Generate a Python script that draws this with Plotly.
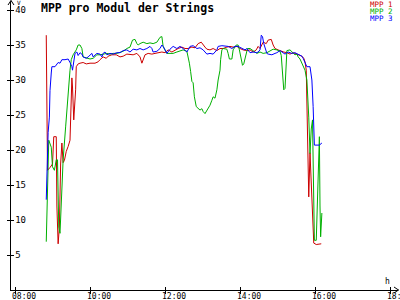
import plotly.graph_objects as go

# ---------------- data ----------------
t_mpp1 = ["08:50","08:52","08:56","09:00","09:02","09:06","09:07","09:09","09:11","09:13",
          "09:15","09:17","09:19","09:22","09:25","09:28","09:31","09:32","09:34","09:37",
          "09:38","09:41","09:44","09:49","09:54","10:00","10:08","10:13","10:16","10:21",
          "10:26","10:29","10:35","10:42","10:48","10:53","10:59","11:04","11:09","11:15",
          "11:20","11:23","11:28","11:33","11:39","11:44","11:49","11:55","12:00","12:05",
          "12:11","12:16","12:21","12:27","12:32","12:37","12:43","12:48","12:53","12:58",
          "13:01","13:04","13:07","13:12","13:17","13:23","13:28","13:33","13:39","13:44",
          "13:49","13:55","14:00","14:05","14:11","14:16","14:21","14:26","14:29","14:32",
          "14:37","14:42","14:45","14:50","14:53","14:56","15:01","15:06","15:10","15:15",
          "15:20","15:25","15:31","15:36","15:39","15:42","15:44","15:46","15:48","15:50",
          "15:52","15:54","15:57","15:58","16:02","16:10"]
v_mpp1 = [36.4,17.1,17.5,18.0,21.9,21.9,12.0,6.6,9.0,18.0,
          21.0,18.2,18.5,19.8,20.5,21.4,30.3,29.0,24.3,28.6,
          31.9,32.3,32.4,32.5,32.3,32.4,32.4,32.6,32.9,33.3,
          33.1,33.4,33.6,33.6,33.3,33.4,33.7,33.6,33.6,33.8,
          33.3,32.4,33.6,33.8,33.7,33.8,33.9,34.0,33.9,34.3,
          34.0,34.3,34.5,34.7,34.5,34.5,34.7,34.6,35.2,35.4,
          35.0,34.7,34.4,34.3,34.5,34.2,34.5,34.5,34.7,34.8,
          34.7,34.8,34.5,34.3,34.2,34.3,34.0,34.3,34.8,34.5,
          35.4,35.2,35.7,35.8,35.0,34.5,34.3,34.1,34.0,33.9,
          33.7,33.9,33.7,33.6,33.4,33.1,32.6,31.4,22.0,13.3,
          19.6,16.0,10.4,6.7,6.5,6.6]

t_mpp2 = ["08:50","08:52","08:54","08:58","09:00","09:03","09:06","09:08","09:10","09:12",
          "09:15","09:17","09:21","09:23","09:25","09:28","09:30","09:33","09:38","09:41",
          "09:44","09:47","09:49","09:55","10:00","10:05","10:11","10:16","10:21","10:27",
          "10:32","10:37","10:43","10:48","10:53","10:59","11:04","11:08","11:12","11:15",
          "11:17","11:20","11:25","11:31","11:36","11:41","11:47","11:52","11:55","11:57",
          "12:00","12:03","12:08","12:13","12:19","12:24","12:29","12:35","12:37","12:39",
          "12:41","12:43","12:45","12:47","12:50","12:53","12:56","12:59","13:01","13:04",
          "13:07","13:09","13:12","13:15","13:17","13:20","13:23","13:25","13:28","13:29",
          "13:31","13:33","13:39","13:41","13:43","13:47","13:49","13:54","13:57","13:59",
          "14:01","14:04","14:06","14:09","14:12","14:16","14:21","14:27","14:32","14:37",
          "14:43","14:48","14:53","14:59","15:04","15:06","15:08","15:10","15:12","15:14",
          "15:15","15:20","15:25","15:28","15:31","15:33","15:36","15:39","15:41","15:44",
          "15:47","15:48","15:50","15:52","15:54","15:56","15:57","15:59","16:02","16:03",
          "16:05","16:07","16:08","16:09","16:11"]
v_mpp2 = [6.9,15.0,21.4,20.4,17.6,17.1,18.6,18.6,9.0,8.1,
          13.8,18.6,23.3,25.7,28.6,31.4,32.9,33.6,34.3,35.0,
          35.0,34.5,33.3,33.1,33.0,33.1,33.6,33.6,33.7,33.8,
          33.7,33.8,33.8,34.0,34.1,34.5,34.7,35.7,35.8,35.2,
          35.0,35.2,35.4,35.2,35.3,35.2,35.4,36.1,36.2,34.8,
          34.3,33.8,33.8,33.8,34.0,34.2,34.3,34.1,33.3,32.4,
          31.2,29.8,29.6,27.6,26.2,26.0,25.7,25.9,25.5,25.2,
          25.6,25.9,26.4,27.1,27.6,27.4,28.6,30.0,31.4,32.9,
          34.3,34.5,34.4,33.8,33.0,33.0,34.3,35.0,35.0,34.3,
          33.4,32.1,32.3,33.6,34.5,34.5,34.2,33.8,34.0,33.8,
          33.9,34.2,34.4,34.3,34.1,33.5,31.5,28.6,28.8,31.9,
          34.2,34.3,33.8,33.6,33.7,33.3,33.0,32.4,32.1,31.4,
          30.0,28.6,24.7,19.5,23.0,24.3,16.0,7.1,7.1,11.0,
          18.1,21.9,12.0,7.6,11.0]

t_mpp3 = ["08:50","08:51","08:52","08:53","08:55","08:56","08:58","08:59","09:04","09:07",
          "09:09","09:12","09:15","09:20","09:25","09:28","09:31","09:32","09:34","09:36",
          "09:39","09:41","09:44","09:47","09:49","09:54","09:57","10:00","10:03","10:05",
          "10:08","10:11","10:16","10:19","10:21","10:24","10:27","10:32","10:37","10:43",
          "10:48","10:53","10:59","11:04","11:09","11:15","11:20","11:25","11:31","11:36",
          "11:39","11:41","11:47","11:52","11:55","11:57","12:00","12:03","12:08","12:13",
          "12:19","12:24","12:29","12:35","12:40","12:45","12:51","12:56","13:01","13:07",
          "13:12","13:17","13:23","13:25","13:31","13:36","13:41","13:47","13:52","13:57",
          "14:03","14:08","14:11","14:16","14:21","14:27","14:29","14:32","14:34","14:36",
          "14:38","14:40","14:43","14:45","14:51","14:56","14:59","15:04","15:09","15:12",
          "15:17","15:23","15:28","15:33","15:39","15:41","15:44","15:47","15:52","15:55",
          "15:57","15:59","16:07","16:11"]
v_mpp3 = [12.9,16.1,20.0,22.5,24.7,28.5,31.0,31.9,31.9,32.2,
          32.5,32.4,32.9,32.9,33.0,32.5,31.9,31.4,32.5,33.8,
          34.0,33.5,33.9,33.7,33.3,33.1,33.3,33.6,33.8,33.3,
          33.6,33.8,33.7,33.3,33.8,34.0,33.6,33.8,33.7,33.9,
          33.9,34.2,34.3,34.0,34.4,34.3,34.5,34.3,34.5,34.8,
          34.5,34.0,34.1,34.5,35.0,34.8,34.3,33.8,34.4,34.8,
          34.5,34.8,34.5,34.0,34.8,34.9,34.5,34.6,34.3,33.7,
          33.8,33.7,34.3,34.8,34.9,34.8,34.8,34.5,34.8,34.8,
          34.5,34.3,34.5,33.9,34.0,33.9,34.0,34.3,36.4,36.2,
          35.2,34.5,33.8,33.7,33.6,33.8,33.9,34.2,33.9,33.7,
          34.0,33.8,33.9,33.7,33.4,33.1,32.4,31.9,31.9,30.0,
          26.2,20.7,20.7,21.0]

series_names = ["MPP 1", "MPP 2", "MPP 3"]
series_colors = ["#cc0000", "#00b000", "#0000ff"]

x_tick_vals = [8, 10, 12, 14, 16, 18]
x_tick_text = ["08:00", "10:00", "12:00", "14:00", "16:00", "18:00"]
y_tick_vals = [5, 10, 15, 20, 25, 30, 35, 40]

title_text = "MPP pro Modul der Strings"


def hours(s):
    h, m = s.split(":")
    return int(h) + int(m) / 60.0


# ---------------- layout geometry ----------------
W, H = 400, 300
L, R, T, B = 11, 2, 2, 10
PW, PH = W - L - R, H - T - B
PX_PER_H = 37.5
PX_PER_V = 7.0
x0 = 8 - (15 - L) / PX_PER_H
x_range = [x0, x0 + PW / PX_PER_H]
y_range = [0, PH / PX_PER_V]


def px(x):
    return (x - L) / PW


def py(y):
    return (H - B - y) / PH


MONO = "DejaVu Sans Mono"

fig = go.Figure()
for t, v, name, col in zip([t_mpp1, t_mpp2, t_mpp3], [v_mpp1, v_mpp2, v_mpp3],
                           series_names, series_colors):
    fig.add_trace(go.Scatter(x=[hours(s) for s in t], y=v, mode="lines", name=name,
                             line=dict(color=col, width=1), showlegend=False,
                             hoverinfo="skip"))

# empty trace so the overlay axes (other tick halves) are drawn
fig.add_trace(go.Scatter(x=[], y=[], xaxis="x2", yaxis="y2", showlegend=False))

axis_common = dict(showgrid=False, zeroline=False, showline=True, linecolor="black",
                   linewidth=1, tickcolor="black", tickwidth=1, ticklen=3,
                   automargin=False)

fig.update_layout(
    width=W, height=H,
    margin=dict(l=L, r=R, t=T, b=B, pad=0, autoexpand=False),
    paper_bgcolor="white", plot_bgcolor="white",
    xaxis=dict(range=x_range, tickvals=x_tick_vals, ticks="inside",
               showticklabels=False, **axis_common),
    yaxis=dict(range=y_range, tickvals=y_tick_vals, ticks="outside",
               ticklabelposition="inside", ticklabelstandoff=3,
               ticklabeloverflow="allow",
               tickfont=dict(family=MONO, size=9, color="black"), **axis_common),
    xaxis2=dict(range=x_range, tickvals=x_tick_vals, ticks="outside", overlaying="x",
                anchor="y2", side="bottom", showticklabels=False, showgrid=False,
                zeroline=False, showline=False, tickcolor="black", ticklen=3,
                automargin=False),
    yaxis2=dict(range=y_range, tickvals=y_tick_vals, ticks="inside", overlaying="y",
                anchor="x2", side="left", showticklabels=False, showgrid=False,
                zeroline=False, showline=False, tickcolor="black", ticklen=3,
                automargin=False),
    font=dict(family=MONO, color="black"),
)

ann = []
# x tick labels, placed on the axis scale (left-aligned just before each tick)
for tv, tt in zip(x_tick_vals, x_tick_text):
    ann.append(dict(text=tt, xref="x", yref="paper", x=tv, y=0, xanchor="left",
                    yanchor="top", xshift=-4.5, yshift=-1, showarrow=False,
                    borderpad=0, font=dict(family=MONO, size=8, color="black")))
ann.append(dict(text="<b>" + title_text + "</b>", xref="paper", yref="paper",
                x=px(39), y=py(8), xanchor="left", yanchor="middle", showarrow=False,
                font=dict(family=MONO, size=11.5, color="black")))
for i, (name, col) in enumerate(zip(series_names, series_colors)):
    ann.append(dict(text=name, xref="paper", yref="paper", x=px(395), y=py(4.3 + 7 * i),
                    xanchor="right", yanchor="middle", showarrow=False,
                    font=dict(family=MONO, size=7.5, color=col)))
ann.append(dict(text="V", xref="paper", yref="paper", x=px(15), y=py(2.5),
                xanchor="left", yanchor="middle", showarrow=False,
                font=dict(family=MONO, size=6, color="black")))
ann.append(dict(text="h", xref="paper", yref="paper", x=px(387), y=py(281),
                xanchor="center", yanchor="middle", showarrow=False,
                font=dict(family=MONO, size=8, color="black")))
fig.update_layout(annotations=ann)

# axis arrow chevrons
shapes = [
    dict(type="path", xref="paper", yref="paper", layer="above",
         path=f"M {px(8)} {py(5)} L {px(11)} {py(0.5)} L {px(14)} {py(5)}",
         line=dict(color="black", width=1)),
    dict(type="path", xref="paper", yref="paper", layer="above",
         path=f"M {px(394)} {py(287)} L {px(398.5)} {py(290)} L {px(394)} {py(293)}",
         line=dict(color="black", width=1)),
    dict(type="line", xref="paper", yref="paper", layer="above",
         x0=px(11), x1=px(11), y0=1, y1=py(0.5), line=dict(color="black", width=1)),
    dict(type="line", xref="paper", yref="paper", layer="above",
         x0=1, x1=px(398.5), y0=0, y1=0, line=dict(color="black", width=1)),
]
fig.update_layout(shapes=shapes)

fig.write_html("out.html")
